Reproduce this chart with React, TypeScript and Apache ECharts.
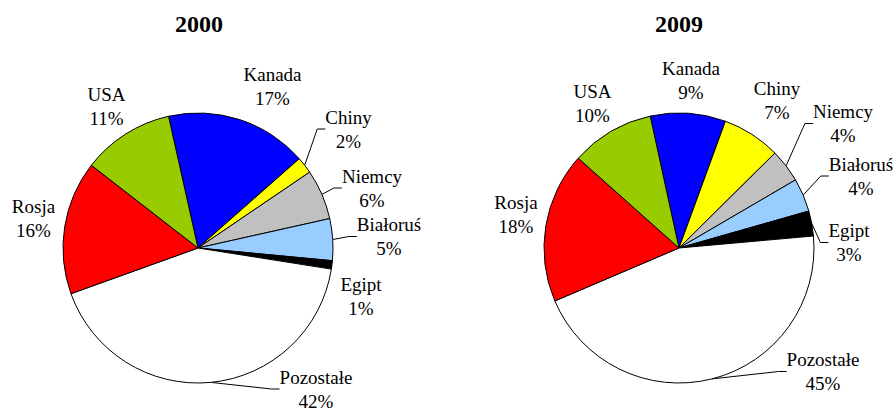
import React, { useEffect, useRef } from 'react';
import * as echarts from 'echarts';

// ---- data ----
const years = ['2000', '2009'];
const countries = ['Kanada', 'Chiny', 'Niemcy', 'Białoruś', 'Egipt', 'Pozostałe', 'Rosja', 'USA'];
const shares2000 = [17, 2, 6, 5, 1, 42, 16, 11];
const shares2009 = [9, 7, 4, 4, 3, 45, 18, 10];

// ---- styles / layout ----
const sliceColors = ['#0000FF', '#FFFF00', '#C0C0C0', '#99CCFF', '#000000', '#FFFFFF', '#FF0000', '#99CC00'];
const pieCenters = [[198, 248], [679, 248]];
const pieRadius = 135;
const startAngles = [102.6, 102.3];
const titleX = [199, 679];
const labelPos2000 = [[272.5, 86.5], [348.5, 129], [372, 188], [389, 236.5], [361, 296.5], [316, 389], [33.5, 218.5], [106.5, 106]];
const labelPos2009 = [[691, 80], [777, 100], [843, 123.5], [861, 176], [849, 242.5], [823, 371.5], [516, 214], [592.5, 103.5]];
const leader2000 = [false, true, true, true, false, true, false, false];
const leader2009 = [false, false, true, true, true, true, false, false];

const FONT = 'Liberation Serif';

function makePie(idx: number, values: number[], positions: number[][], leaders: boolean[]) {
  return {
    type: 'pie',
    center: pieCenters[idx],
    radius: pieRadius,
    startAngle: startAngles[idx],
    clockwise: true,
    avoidLabelOverlap: false,
    silent: true,
    emphasis: { disabled: true },
    data: countries.map((name, i) => ({
      name,
      value: values[i],
      itemStyle: { color: sliceColors[i] },
      labelLine: { show: leaders[i] },
      label: { fontFamily: FONT },
    })),
    itemStyle: { borderColor: '#000', borderWidth: 1 },
    label: {
      show: true,
      position: 'outside',
      formatter: (p: any) => `${p.name}\n${p.value}%`,
      fontFamily: FONT,
      fontStyle: 'normal',
      fontWeight: 'normal',
      fontSize: 19,
      lineHeight: 24,
      color: '#000',
      align: 'center',
    },
    labelLine: {
      show: true,
      length: 6,
      length2: 8,
      smooth: false,
      lineStyle: { color: '#000', width: 1 },
    },
    labelLayout: (params: any) => {
      const p = positions[params.dataIndex];
      return { x: p[0], y: p[1], align: 'center', verticalAlign: 'middle' };
    },
  };
}

export default function App() {
  const ref = useRef<HTMLDivElement>(null);
  useEffect(() => {
    if (!ref.current) return;
    const chart = echarts.init(ref.current, undefined, { renderer: 'svg' });
    chart.setOption({
      animation: false,
      backgroundColor: '#fff',
      textStyle: { fontFamily: FONT },
      graphic: years.map((y, i) => ({
        type: 'text',
        x: titleX[i],
        y: 24,
        style: {
          text: y,
          fontFamily: FONT,
          fontWeight: 'bold',
          fontSize: 24,
          fill: '#000',
          align: 'center',
          verticalAlign: 'middle',
        },
      })),
      series: [
        makePie(0, shares2000, labelPos2000, leader2000),
        makePie(1, shares2009, labelPos2009, leader2009),
      ],
    });
    return () => chart.dispose();
  }, []);
  return (
    <div
      ref={ref}
      style={{ position: 'fixed', left: 0, top: 0, width: 895, height: 409, background: '#fff' }}
    />
  );
}
